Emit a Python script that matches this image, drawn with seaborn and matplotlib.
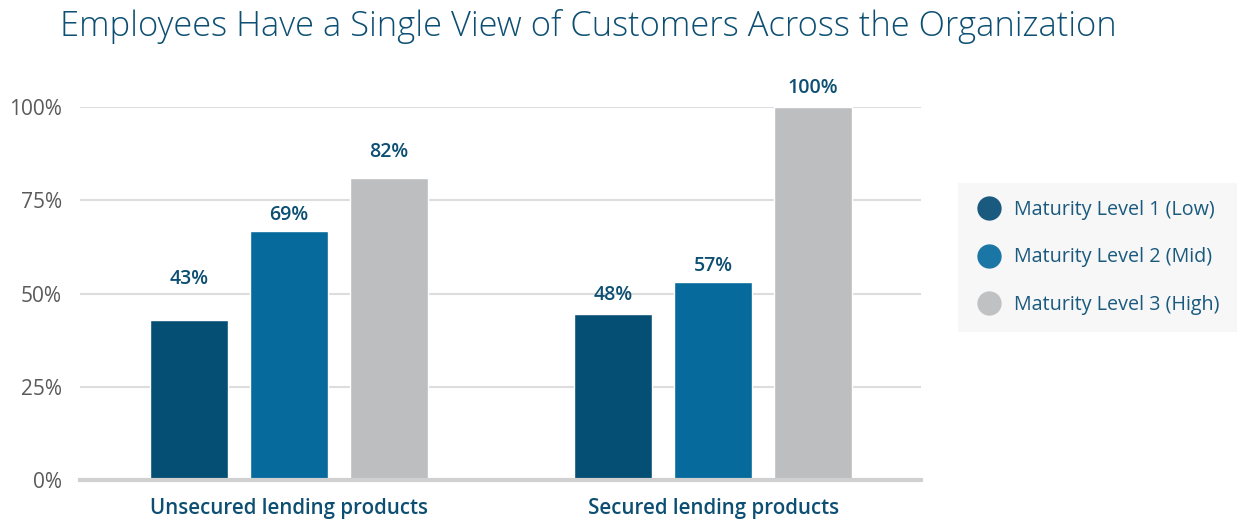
import pandas as pd
import matplotlib.pyplot as plt
import seaborn as sns
from matplotlib.lines import Line2D

# data
categories = ["Unsecured lending products", "Secured lending products"]
levels = ["Maturity Level 1 (Low)", "Maturity Level 2 (Mid)", "Maturity Level 3 (High)"]
bar_heights = [[43, 66.7, 80.9], [44.4, 53, 100]]   # drawn bar heights
bar_labels = [["43%", "69%", "82%"], ["48%", "57%", "100%"]]  # printed labels
label_gap = [[29, 12, 19], [14, 12, 14]]   # points between bar top and label centre
colors = ["#064f74", "#066a9c", "#bdbec0"]
legend_colors = ["#1a5a7e", "#1a76a4", "#c0c1c3"]

rows = []
for i, c in enumerate(categories):
    for j, l in enumerate(levels):
        rows.append({"cat": c, "level": l, "val": bar_heights[i][j]})
df = pd.DataFrame(rows)

sns.set_style("white")
plt.rcParams["font.family"] = ["Open Sans", "DejaVu Sans"]

fig = plt.figure(figsize=(12.41, 5.23), dpi=100)
ax = fig.add_axes([0.0645, 0.0822, 0.6775, 0.7132])

sns.barplot(data=df, x="cat", y="val", hue="level", palette=colors,
            width=0.708, gap=0.22, saturation=1, legend=False, ax=ax)

# value labels above bars
for j, cont in enumerate(ax.containers):
    for i, bar in enumerate(cont):
        ax.annotate(bar_labels[i][j], (bar.get_x() + bar.get_width() / 2, bar.get_height()),
                    xytext=(0, label_gap[i][j]), textcoords="offset points",
                    ha="center", va="center", color="#0d4f73",
                    fontsize=14, fontweight="semibold", annotation_clip=False)

ax.set_xlim(-0.493, 1.49)
ax.set_ylim(0, 100)
ax.set_yticks([0, 25, 50, 75, 100])
ax.set_yticklabels(["0%", "25%", "50%", "75%", "100%"], color="#5a5a5a", fontsize=15)
ax.yaxis.grid(True, color="#dddddd", linewidth=1.5)
ax.set_axisbelow(True)
ax.tick_params(axis="y", length=0, pad=13)
ax.tick_params(axis="x", length=0, pad=13)
for lbl in ax.get_xticklabels():
    lbl.set_color("#0d4f73")
    lbl.set_fontsize(14.8)
    lbl.set_fontweight("semibold")
ax.set_xlabel("")
ax.set_ylabel("")
for s in ["top", "right", "left"]:
    ax.spines[s].set_visible(False)
ax.spines["bottom"].set_color("#d0d0d0")
ax.spines["bottom"].set_linewidth(3)

fig.text(0.048, 0.950, "Employees Have a Single View of Customers Across the Organization",
         fontsize=24.8, color="#0d4f73", va="center", ha="left", fontweight="light")

handles = [Line2D([0], [0], marker="o", linestyle="", markersize=16.5,
                  markerfacecolor=c, markeredgecolor=c) for c in legend_colors]
leg = fig.legend(handles, levels, loc="upper left", bbox_to_anchor=(0.772, 0.65),
                 frameon=True, fontsize=14.2, labelcolor="#1a5a7e",
                 handletextpad=0.6, labelspacing=1.4, borderpad=0.85, borderaxespad=0,
                 handlelength=1.4)
leg.get_frame().set_facecolor("#f5f5f5")
leg.get_frame().set_edgecolor("none")
leg.get_frame().set_boxstyle("square", pad=0)
for t in leg.get_texts():
    t.set_fontweight("medium")

fig.savefig("out.png", dpi=100)
